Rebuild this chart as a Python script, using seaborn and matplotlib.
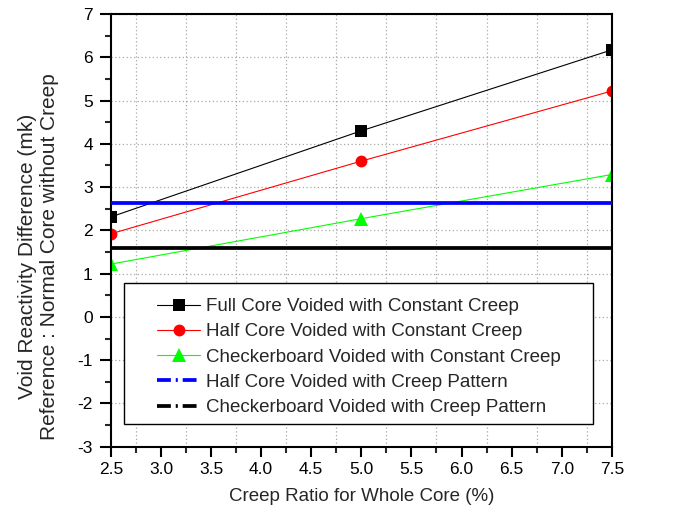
import matplotlib
matplotlib.use("Agg")
import matplotlib.pyplot as plt
import seaborn as sns
import numpy as np
import pandas as pd
from matplotlib.ticker import MultipleLocator, FormatStrFormatter
from matplotlib.lines import Line2D
from matplotlib.patches import Rectangle

# ---- data ----
creep_ratio = [2.5, 5.0, 7.5]
full_core_constant = [2.31, 4.30, 6.17]
half_core_constant = [1.92, 3.60, 5.22]
checker_constant = [1.22, 2.27, 3.29]
half_core_pattern = 2.64
checker_pattern = 1.60

labels = [
    "Full Core Voided with Constant Creep",
    "Half Core Voided with Constant Creep",
    "Checkerboard Voided with Constant Creep",
    "Half Core Voided with Creep Pattern",
    "Checkerboard Voided with Creep Pattern",
]
x_label = "Creep Ratio for Whole Core (%)"
y_label = "Void Reactivity Difference (mk)\nReference : Normal Core without Creep"

sns.set_style("ticks")
plt.rcParams["font.family"] = ["Liberation Sans", "DejaVu Sans"]
plt.rcParams["axes.unicode_minus"] = False

fig = plt.figure(figsize=(6.76, 5.12), dpi=100)
ax = fig.add_axes([0.164, 0.1275, 0.741, 0.8452])

ax.set_xlim(2.5, 7.5)
ax.set_ylim(-3, 7)

# grid
ax.xaxis.set_major_locator(MultipleLocator(0.5))
ax.xaxis.set_minor_locator(MultipleLocator(0.25))
ax.yaxis.set_major_locator(MultipleLocator(1))
ax.yaxis.set_minor_locator(MultipleLocator(0.5))
ax.xaxis.set_major_formatter(FormatStrFormatter("%.1f"))
ax.grid(which="minor", axis="x", color="#a8a8a8", linestyle=(0, (1, 2)), lw=0.9)
ax.grid(which="major", axis="y", color="#a8a8a8", linestyle=(0, (1, 2)), lw=0.9)
ax.set_axisbelow(True)

green = "#00ff00"
series = [
    (full_core_constant, "black", "s", 8),
    (half_core_constant, "red", "o", 8.5),
    (checker_constant, green, "^", 10),
]
for vals, col, mk, ms in series:
    sns.lineplot(x=creep_ratio, y=vals, ax=ax, color=col, lw=0.8,
                 marker=mk, markersize=ms, markeredgewidth=0,
                 markeredgecolor=col, legend=False)

ax.axhline(half_core_pattern, color="#0000ff", lw=2.7, zorder=3)
ax.axhline(checker_pattern, color="black", lw=2.7, zorder=3)

# ticks / spines
for s in ax.spines.values():
    s.set_linewidth(1.5)
    s.set_color("black")
ax.tick_params(which="major", direction="out", width=1.5,
               labelsize=12.5, colors="black")
ax.tick_params(axis="x", which="major", length=7, pad=4)
ax.tick_params(axis="y", which="major", length=8, pad=5)
ax.tick_params(which="minor", direction="out", length=4.5, width=1.5)
ax.tick_params(top=False, right=False, which="both")

ax.set_xlabel(x_label, fontsize=13.5, labelpad=8)
ax.set_ylabel(y_label, fontsize=15, linespacing=1.2)
ax.yaxis.set_label_coords(-0.103, 0.44)

# legend
frame = Rectangle((0.026, 0.052), 0.936, 0.326, transform=ax.transAxes,
                  facecolor="white", edgecolor="black", lw=1.0, zorder=4)
ax.add_patch(frame)

dashdot = (0, (3.7, 1.3, 0.55, 1.3))
handles = [
    Line2D([], [], color="black", lw=0.8, marker="s", markersize=8, markeredgewidth=0),
    Line2D([], [], color="red", lw=0.8, marker="o", markersize=8.5, markeredgewidth=0),
    Line2D([], [], color=green, lw=0.8, marker="^", markersize=10, markeredgewidth=0),
    Line2D([], [], color="#0000ff", lw=2.7, linestyle=dashdot),
    Line2D([], [], color="black", lw=2.7, linestyle=dashdot),
]
leg = ax.legend(handles, labels, loc="upper left",
                bbox_to_anchor=(0.092, 0.3435), borderaxespad=0, borderpad=0,
                frameon=False, fontsize=13.5, handlelength=2.3,
                handletextpad=0.3, labelspacing=0.435)
leg.set_zorder(5)

fig.savefig("out.png", dpi=100)
